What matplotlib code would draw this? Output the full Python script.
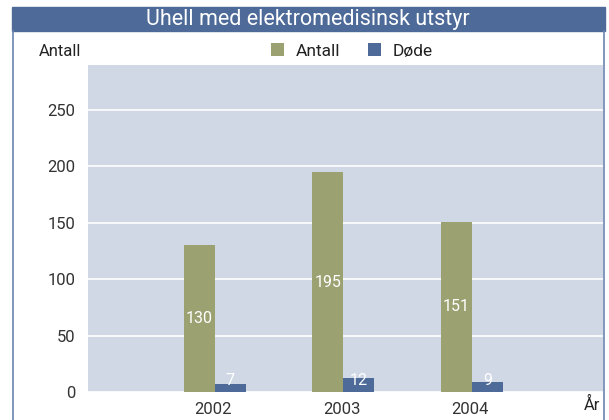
import matplotlib.pyplot as plt
from matplotlib.patches import Rectangle
from matplotlib.lines import Line2D
import numpy as np

years = ['2002', '2003', '2004']
antall = [130, 195, 151]
dode = [7, 12, 9]

OLIVE = '#9ca172'
BLUE = '#4d6a98'
BG = '#d0d8e6'
TXT = '#333333'

plt.rcParams['font.family'] = ['Roboto', 'DejaVu Sans']

fig = plt.figure(figsize=(6.09, 4.2), dpi=100)

# title band and frame
fig.patches.append(Rectangle((12 / 609, 389 / 420), 593 / 609, 24 / 420,
                             transform=fig.transFigure, color=BLUE, zorder=0))
fig.text(308 / 609, 401 / 420, 'Uhell med elektromedisinsk utstyr', color='white',
         fontsize=15.5, ha='center', va='center')
fig.lines.append(Line2D([12.5 / 609, 12.5 / 609], [0, 389 / 420], transform=fig.transFigure,
                        color='#6a84b0', lw=1.2))
fig.lines.append(Line2D([604 / 609, 604 / 609], [0, 389 / 420], transform=fig.transFigure,
                        color='#6a84b0', lw=1.2))

ax = fig.add_axes([88 / 609, 28 / 420, 515 / 609, 327 / 420])
ax.set_facecolor(BG)
x = np.arange(len(years))
w = 0.241
ax.bar(x - w / 2, antall, w, color=OLIVE, label='Antall', zorder=3)
ax.bar(x + w / 2, dode, w, color=BLUE, label='Døde', zorder=3)

for xi, v in zip(x - w / 2, antall):
    ax.text(xi, v / 2, str(v), color='white', fontsize=11.5, ha='center', va='center', zorder=4)
for xi, v in zip(x + w / 2, dode):
    ax.text(xi, max(v / 2, 10), str(v), color='white', fontsize=11.5, ha='center', va='center', zorder=4)

ax.set_xlim(-0.988, 3.02)
ax.set_ylim(0, 290)
ax.set_yticks(range(0, 251, 50))
ax.set_xticks(x - 0.015)
ax.set_xticklabels(years)
ax.tick_params(length=0, labelsize=12, labelcolor=TXT, pad=7)
ax.tick_params(axis='y', pad=9)
ax.grid(axis='y', color='white', lw=1.2, zorder=1)
for s in ax.spines.values():
    s.set_visible(False)

fig.text(60 / 609, 369 / 420, 'Antall', fontsize=12, color='#222222', ha='center', va='center')
fig.text(592 / 609, 15 / 420, 'År', fontsize=12, color='#222222', ha='center', va='center')

ax.legend(loc='center', bbox_to_anchor=(352 / 609, 369 / 420), bbox_transform=fig.transFigure,
          ncol=2, frameon=False, fontsize=12.5, handlelength=0.75, handleheight=0.75,
          columnspacing=1.55, handletextpad=0.7, labelcolor='#222222')

fig.savefig('out.png', dpi=100)
